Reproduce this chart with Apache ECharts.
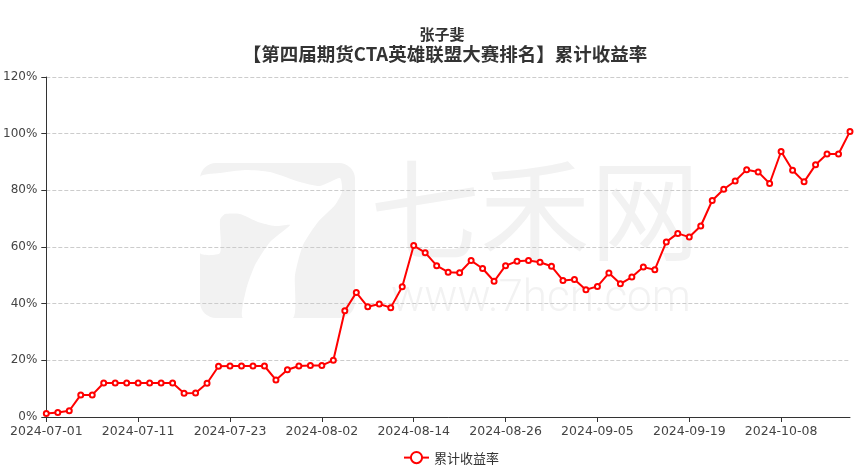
<!DOCTYPE html>
<html>
<head>
<meta charset="utf-8">
<script src="https://cdn.jsdelivr.net/npm/echarts@6/dist/echarts.min.js"></script>
<style>html,body{margin:0;padding:0;background:#fff}#c{width:865px;height:468px}</style>
</head>
<body>
<div id="c"></div>
<script>
const titleLine1 = '张子斐';
const titleLine2 = '【第四届期货CTA英雄联盟大赛排名】累计收益率';
const seriesName = '累计收益率';
const dates = [
 '2024-07-01','2024-07-02','2024-07-03','2024-07-04','2024-07-05','2024-07-08','2024-07-09','2024-07-10',
 '2024-07-11','2024-07-12','2024-07-15','2024-07-16','2024-07-17','2024-07-18','2024-07-19','2024-07-22',
 '2024-07-23','2024-07-24','2024-07-25','2024-07-26','2024-07-29','2024-07-30','2024-07-31','2024-08-01',
 '2024-08-02','2024-08-05','2024-08-06','2024-08-07','2024-08-08','2024-08-09','2024-08-12','2024-08-13',
 '2024-08-14','2024-08-15','2024-08-16','2024-08-19','2024-08-20','2024-08-21','2024-08-22','2024-08-23',
 '2024-08-26','2024-08-27','2024-08-28','2024-08-29','2024-08-30','2024-09-02','2024-09-03','2024-09-04',
 '2024-09-05','2024-09-06','2024-09-09','2024-09-10','2024-09-11','2024-09-12','2024-09-13','2024-09-18',
 '2024-09-19','2024-09-20','2024-09-23','2024-09-24','2024-09-25','2024-09-26','2024-09-27','2024-09-30',
 '2024-10-08','2024-10-09','2024-10-10','2024-10-11','2024-10-14','2024-10-15','2024-10-16'
];
const returns = [
 1.2, 1.6, 2.2, 7.8, 7.8, 12.0, 12.0, 12.0,
 12.0, 12.0, 12.0, 12.0, 8.4, 8.5, 11.9, 17.9,
 18.0, 18.0, 18.0, 18.0, 13.1, 16.7, 18.0, 18.2,
 18.2, 20.0, 37.5, 43.9, 38.9, 39.9, 38.6, 46.0,
 60.5, 58.0, 53.4, 51.1, 50.9, 55.2, 52.4, 47.9,
 53.4, 55.0, 55.2, 54.6, 53.2, 48.2, 48.5, 44.9,
 46.1, 50.8, 47.0, 49.4, 52.9, 52.0, 61.8, 64.8,
 63.5, 67.4, 76.4, 80.4, 83.3, 87.3, 86.5, 82.4,
 93.7, 87.1, 83.0, 89.0, 92.8, 92.8, 100.8
];
const watermarkName = '七禾网';
const watermarkUrl = 'www.7hcn.com';

const chart = echarts.init(document.getElementById('c'), null, {renderer: 'canvas'});
const wmColor = '#f2f2f2';
chart.setOption({
  animation: false,
  backgroundColor: '#fff',
  title: [
    {text: titleLine1, left: 437, textAlign: 'center', top: 22,
     textStyle: {fontSize: 15, fontWeight: 'bold', color: '#333', fontFamily: 'Noto Sans CJK SC'}},
    {text: titleLine2, left: 440, textAlign: 'center', top: 40,
     textStyle: {fontSize: 18.5, fontWeight: 'bold', color: '#333', fontFamily: 'Noto Sans CJK SC'}}
  ],
  graphic: [
    {type: 'rect', z: -10, silent: true, shape: {x: 200, y: 163, width: 155, height: 155, r: 16}, style: {fill: wmColor}},
    {type: 'polygon', z: -9, silent: true,
     shape: {points: [[200,177],[220,173],[245,170],[270,172],[300,182],[320,186],[340,178],[342,192],[335,205],[318,222],[303,245],[295,275],[293,318],[243,318],[246,290],[255,265],[270,242],[290,225],[275,226],[258,222],[240,214],[225,214],[220,220],[220,253],[200,253]], smooth: 0.2},
     style: {fill: '#ffffff'}},
    {type: 'text', z: -10, silent: true, left: 370, top: 155,
     style: {text: watermarkName, fill: wmColor, fontSize: 110, fontFamily: 'Noto Sans CJK SC', fontWeight: 400}},
    {type: 'text', z: -10, silent: true, left: 391, top: 278,
     style: {text: watermarkUrl, fill: wmColor, fontSize: 44, fontFamily: 'Roboto', fontWeight: 300}}
  ],
  legend: {
    data: [seriesName], left: 398, top: 446, itemWidth: 25, itemHeight: 14, itemGap: 10,
    textStyle: {fontSize: 13, color: '#333', fontFamily: 'Noto Sans CJK SC'}
  },
  grid: {left: 45, right: 15, top: 77, bottom: 51, containLabel: false},
  xAxis: {
    type: 'category', data: dates, boundaryGap: false,
    axisLine: {lineStyle: {color: '#333'}},
    axisTick: {interval: 7, lineStyle: {color: '#333'}},
    axisLabel: {interval: 7, color: '#444', fontSize: 12.5, margin: 8, fontFamily: 'DejaVu Sans'},
    splitLine: {show: false}
  },
  yAxis: {
    type: 'value', min: 0, max: 120, interval: 20,
    axisLine: {show: true, lineStyle: {color: '#333'}},
    axisTick: {show: true, lineStyle: {color: '#333'}},
    axisLabel: {formatter: '{value}%', color: '#444', fontSize: 12, margin: 9, fontFamily: 'DejaVu Sans'},
    splitLine: {show: true, lineStyle: {type: 'dashed', color: '#ccc'}}
  },
  series: [{
    name: seriesName, type: 'line', data: returns,
    symbol: 'emptyCircle', symbolSize: 5, showSymbol: true,
    lineStyle: {color: '#ff0000', width: 2},
    itemStyle: {color: '#ff0000', borderWidth: 1}
  }]
});
</script>
</body>
</html>
